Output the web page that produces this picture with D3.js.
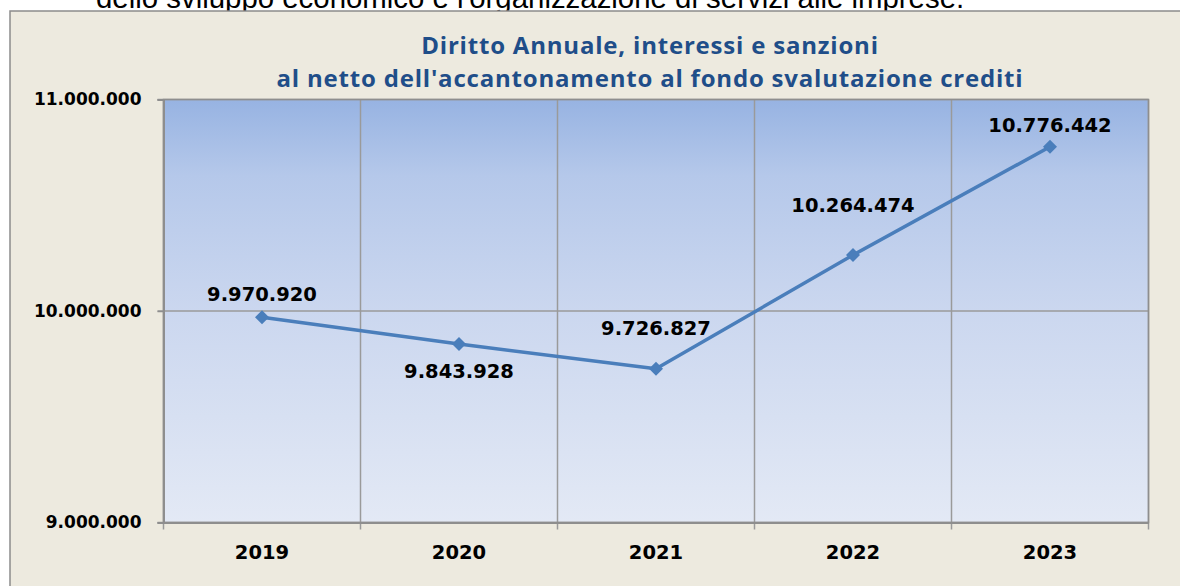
<!DOCTYPE html>
<html>
<head>
<meta charset="utf-8">
<script src="https://cdn.jsdelivr.net/npm/d3@7"></script>
<style>
  html, body { margin: 0; padding: 0; background: #fff; }
  svg { display: block; }
</style>
</head>
<body>
<svg id="svg" width="1180" height="586"></svg>
<script>
const years = ['2019', '2020', '2021', '2022', '2023']
const values = [9970920, 9843928, 9726827, 10264474, 10776442]
const yTicks = [9000000, 10000000, 11000000]
const titleLines = [
	'Diritto Annuale, interessi e sanzioni',
	'al netto dell\'accantonamento al fondo svalutazione crediti'
]
const pageText = 'dello sviluppo economico e l\'organizzazione di servizi alle imprese.'

// label placement relative to each point (baseline offset)
const labelDy = [-16, 34, -34, -43, -15]

const $svg = d3.select('#svg')

const itFormat = d3.formatLocale({
	decimal: ',',
	thousands: '.',
	grouping: [3],
	currency: ['€', '']
}).format(',d')

const plot = { left: 163.5, right: 1148.5, top: 99.5, bottom: 522.5 }

// bit of report text that sits above the chart (cut by the page crop)
$svg.append('text')
	.attr('x', 96)
	.attr('y', 7.5)
	.attr('font-family', 'Liberation Sans, Arial, sans-serif')
	.attr('font-size', 29.4)
	.attr('fill', '#000')
	.text(pageText)

// chart box
$svg.append('rect')
	.attr('x', 10)
	.attr('y', 11)
	.attr('width', 1200)
	.attr('height', 600)
	.attr('fill', '#edeadf')
	.attr('stroke', '#8c8c8c')
	.attr('stroke-width', 1.5)

const defs = $svg.append('defs')
const grad = defs.append('linearGradient')
	.attr('id', 'plotFill')
	.attr('x1', 0).attr('y1', 0)
	.attr('x2', 0).attr('y2', 1)
grad.append('stop').attr('offset', '0%').attr('stop-color', '#97b3e2')
grad.append('stop').attr('offset', '18%').attr('stop-color', '#b5c8ea')
grad.append('stop').attr('offset', '50%').attr('stop-color', '#cbd7ef')
grad.append('stop').attr('offset', '100%').attr('stop-color', '#e3e9f5')

const scaleX = d3.scaleBand()
	.domain(years)
	.range([plot.left, plot.right])
	.padding(0)

const scaleY = d3.scaleLinear()
	.domain([9000000, 11000000])
	.range([plot.bottom, plot.top])

$svg.append('rect')
	.attr('x', plot.left)
	.attr('y', plot.top)
	.attr('width', plot.right - plot.left)
	.attr('height', plot.bottom - plot.top)
	.attr('fill', 'url(#plotFill)')

// vertical grid between categories
const boundaries = years.map(y => scaleX(y)).concat([plot.right])
$svg.append('g')
	.selectAll('line')
	.data(boundaries)
	.join('line')
	.attr('x1', d => d)
	.attr('x2', d => d)
	.attr('y1', plot.top)
	.attr('y2', plot.bottom + 7)
	.attr('stroke', '#9a9a9a')
	.attr('stroke-width', 1.5)

// horizontal grid
$svg.append('g')
	.selectAll('line')
	.data(yTicks)
	.join('line')
	.attr('x1', plot.left - 6)
	.attr('x2', plot.right)
	.attr('y1', d => scaleY(d))
	.attr('y2', d => scaleY(d))
	.attr('stroke', '#9a9a9a')
	.attr('stroke-width', 1.5)

// y axis
const yAxis = $svg.append('g')
	.attr('transform', `translate(${plot.left},0)`)
	.call(d3.axisLeft(scaleY).tickValues(yTicks).tickFormat(itFormat).tickSize(6).tickPadding(16))
yAxis.select('.domain').attr('stroke', '#8e8e8e').attr('stroke-width', 2)
yAxis.selectAll('.tick line').attr('stroke', '#8e8e8e').attr('stroke-width', 1.5)
yAxis.selectAll('.tick text')
	.attr('font-family', 'DejaVu Sans, Verdana, sans-serif')
	.attr('font-weight', 'bold')
	.attr('font-size', 17)
	.attr('fill', '#000')

// x axis labels
const xAxis = $svg.append('g')
	.attr('transform', `translate(0,${plot.bottom})`)
	.call(d3.axisBottom(scaleX).tickSize(0).tickPadding(23))
xAxis.select('.domain').attr('stroke', '#8e8e8e').attr('stroke-width', 2)
xAxis.selectAll('.tick text')
	.attr('font-family', 'DejaVu Sans, Verdana, sans-serif')
	.attr('font-weight', 'bold')
	.attr('font-size', 19.5)
	.attr('fill', '#000')

// plot border
$svg.append('rect')
	.attr('x', plot.left)
	.attr('y', plot.top)
	.attr('width', plot.right - plot.left)
	.attr('height', plot.bottom - plot.top)
	.attr('fill', 'none')
	.attr('stroke', '#8e8e8e')
	.attr('stroke-width', 1.5)

// series
const points = years.map((year, i) => ({
	x: scaleX(year) + scaleX.bandwidth() / 2,
	y: scaleY(values[i]),
	value: values[i],
	dy: labelDy[i]
}))

const drawLine = d3.line()
	.x(d => d.x)
	.y(d => d.y)

$svg.append('path')
	.attr('d', drawLine(points))
	.attr('stroke', '#4a7ebb')
	.attr('stroke-width', 3.5)
	.attr('fill', 'none')
	.attr('stroke-linejoin', 'round')

$svg.append('g')
	.selectAll('path')
	.data(points)
	.join('path')
	.attr('d', d3.symbol(d3.symbolSquare, 98))
	.attr('transform', d => `translate(${d.x},${d.y}) rotate(45)`)
	.attr('fill', '#4a7ebb')

$svg.append('g')
	.selectAll('text')
	.data(points)
	.join('text')
	.attr('x', d => d.x)
	.attr('y', d => d.y + d.dy)
	.attr('text-anchor', 'middle')
	.attr('font-family', 'DejaVu Sans, Verdana, sans-serif')
	.attr('font-weight', 'bold')
	.attr('font-size', 19.5)
	.attr('fill', '#000')
	.text(d => itFormat(d.value))

// title
$svg.append('g')
	.selectAll('text')
	.data(titleLines)
	.join('text')
	.attr('x', 650)
	.attr('y', (d, i) => 53.5 + i * 33)
	.attr('text-anchor', 'middle')
	.attr('font-family', 'Open Sans, sans-serif')
	.attr('font-weight', 'bold')
	.attr('font-size', 24)
	.attr('letter-spacing', 0.8)
	.attr('fill', '#1f4e89')
	.text(d => d)
</script>
</body>
</html>
